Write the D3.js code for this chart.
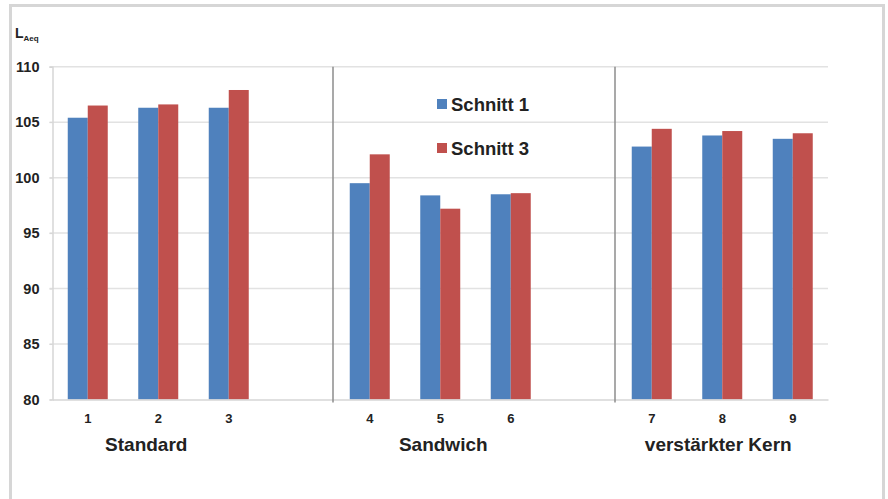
<!DOCTYPE html>
<html>
<head>
<meta charset="utf-8">
<script src="https://cdn.jsdelivr.net/npm/d3@7"></script>
<style>
html,body{margin:0;padding:0;background:#fff;}
svg{display:block;font-family:"Liberation Sans",Arial,sans-serif;}
</style>
</head>
<body>
<svg id="chart" width="888" height="499"></svg>
<script>
// Slots along x (blank slots separate the groups)
const slots = ["1","2","3","gap1","4","5","6","gap2","7","8","9"];
const tickLabels = ["1","2","3","","4","5","6","","7","8","9"];
const categories = ["1","2","3","4","5","6","7","8","9"];
const seriesNames = ["Schnitt 1","Schnitt 3"];
const schnitt1 = [105.4,106.3,106.3,99.5,98.4,98.5,102.8,103.8,103.5];
const schnitt3 = [106.5,106.6,107.9,102.1,97.2,98.6,104.4,104.2,104.0];
const groupNames = ["Standard","Sandwich","verstärkter Kern"];
const groupMembers = [["1","2","3"],["4","5","6"],["7","8","9"]];
const separatorBefore = ["4","7"];
const yTicks = [80,85,90,95,100,105,110];
const colors = ["#4f81bd","#c0504d"];

(function(){
const svg = d3.select("#chart");
const mLeft = 52.5, mRight = 828, mTop = 66.7, mBottom = 399.5;
const labelShift = [-12, 3, -4]; // layout nudges for group titles

// outer frame
svg.append("rect").attr("x",10.5).attr("y",5.5).attr("width",873).attr("height",520)
  .attr("fill","#fff").attr("stroke","#d6d6d6").attr("stroke-width",3);

const x0 = d3.scaleBand().domain(slots).range([mLeft,mRight]).paddingInner(0.4326).paddingOuter(0.2163);
const x1 = d3.scaleBand().domain(seriesNames).range([0,x0.bandwidth()]);
const y = d3.scaleLinear().domain([80,110]).range([mBottom,mTop]);

// gridlines
svg.append("g").selectAll("line").data(yTicks.slice(1)).join("line")
  .attr("x1",mLeft-3).attr("x2",mRight).attr("y1",d=>y(d)).attr("y2",d=>y(d))
  .attr("stroke","#e2e2e2").attr("stroke-width",1.5);

// y axis
const yAxis = d3.axisLeft(y).tickValues(yTicks).tickSize(3).tickPadding(10).tickFormat(d3.format("d"));
const gy = svg.append("g").attr("transform",`translate(${mLeft},0)`).call(yAxis);
gy.select(".domain").attr("stroke","#d6d6d6").attr("stroke-width",1.5);
gy.selectAll(".tick line").attr("stroke","#d6d6d6");
gy.selectAll("text").attr("font-size",14.5).attr("font-weight","bold").attr("fill","#222")
  .attr("font-family","'Liberation Sans',Arial,sans-serif");

// bars
const data = categories.map((c,i)=>({cat:c, vals:[schnitt1[i],schnitt3[i]]}));
const groups = svg.append("g").selectAll("g").data(data).join("g")
  .attr("transform",d=>`translate(${x0(d.cat)},0)`);
groups.selectAll("rect").data(d=>d.vals.map((v,k)=>({k,v}))).join("rect")
  .attr("x",d=>x1(seriesNames[d.k])).attr("width",x1.bandwidth())
  .attr("y",d=>y(d.v)).attr("height",d=>y(80)-y(d.v))
  .attr("fill",d=>colors[d.k]);

// x axis baseline and tick labels
const xAxis = d3.axisBottom(x0).tickSize(0).tickPadding(14).tickFormat((d,i)=>tickLabels[i]);
const gx = svg.append("g").attr("transform",`translate(0,${mBottom})`).call(xAxis);
gx.select(".domain").attr("stroke","#d6d6d6").attr("stroke-width",1.5);
gx.selectAll("text").attr("font-size",13).attr("font-weight","bold").attr("fill","#222")
  .attr("font-family","'Liberation Sans',Arial,sans-serif");

// group separators
const gapHalf = (x0.step()-x0.bandwidth())/2;
svg.append("g").selectAll("line").data(separatorBefore).join("line")
  .attr("x1",d=>x0(d)-gapHalf-1.5).attr("x2",d=>x0(d)-gapHalf-1.5)
  .attr("y1",mTop).attr("y2",mBottom+3)
  .attr("stroke","#8c8c8c").attr("stroke-width",1.5);

// group labels
svg.append("g").selectAll("text").data(groupNames).join("text")
  .attr("x",(d,i)=>{const m=groupMembers[i]; return (x0(m[0])+x0(m[2])+x0.bandwidth())/2 + labelShift[i];})
  .attr("y",451).attr("text-anchor","middle")
  .attr("font-size",19).attr("font-weight","bold").attr("fill","#222").text(d=>d);

// y label L_Aeq
const yl = svg.append("text").attr("x",15).attr("y",38).attr("font-weight","bold").attr("fill","#222");
yl.append("tspan").attr("font-size",14).text("L");
yl.append("tspan").attr("font-size",8).attr("dy",3).text("Aeq");

// legend
const lg = svg.append("g").selectAll("g").data(seriesNames).join("g")
  .attr("transform",(d,i)=>`translate(437,${99+i*44})`);
lg.append("rect").attr("width",10).attr("height",10).attr("fill",(d,i)=>colors[i]);
lg.append("text").attr("x",14).attr("y",12).attr("font-size",18.5).attr("font-weight","bold")
  .attr("fill","#222").text(d=>d);
})();
</script>
</body>
</html>
